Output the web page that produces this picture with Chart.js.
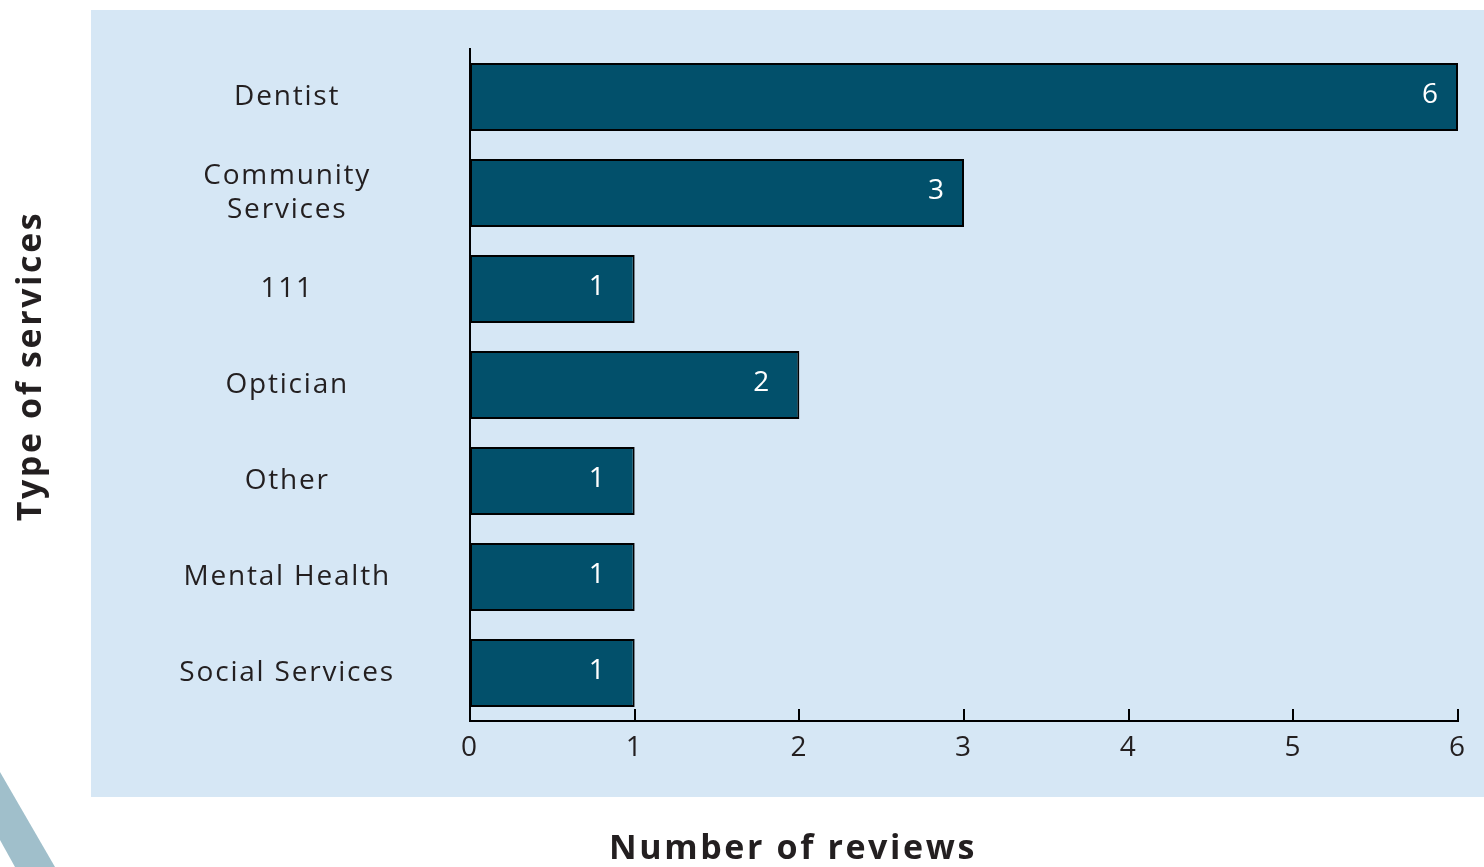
<!DOCTYPE html>
<html>
<head>
<meta charset="utf-8">
<script src="https://cdn.jsdelivr.net/npm/chart.js@4.4.1/dist/chart.umd.min.js"></script>
<style>
  html, body { margin: 0; padding: 0; background: #fff; }
  #wrap { position: relative; width: 1484px; height: 867px; }
</style>
</head>
<body>
<div id="wrap"><canvas id="reviewsChart" width="1484" height="867"></canvas></div>
<script>
'use strict';

// data
var services = ['Dentist', ['Community', 'Services'], '111', 'Optician', 'Other', 'Mental Health', 'Social Services'];
var reviewCounts = [6, 3, 1, 2, 1, 1, 1];
var xTicks = [0, 1, 2, 3, 4, 5, 6];

var xTitle = 'Number of reviews',
	yTitle = 'Type of services',
	fontFamily = '"Open Sans", "Noto Sans", sans-serif',
	textColor = '#231f20';

// the source font is letter-spaced, canvas can do that directly
var spacing = {
	id: 'spacing',
	beforeLayout: function(chart) { chart.ctx.letterSpacing = '1.8px'; },
	beforeDraw: function(chart) { chart.ctx.letterSpacing = '1.8px'; }
};

// blue panel, corner stripe and axis titles
var backdrop = {
	id: 'backdrop',
	beforeDraw: function(chart) {
		var ctx = chart.ctx;
		ctx.save();
		ctx.fillStyle = '#d6e7f5';
		ctx.fillRect(91, 10, 1393, 787);
		ctx.fillStyle = '#a0bfcb';
		ctx.beginPath();
		ctx.moveTo(0, 772);
		ctx.lineTo(55, 867);
		ctx.lineTo(15, 867);
		ctx.lineTo(0, 840);
		ctx.closePath();
		ctx.fill();
		ctx.restore();
	},
	afterDraw: function(chart) {
		var ctx = chart.ctx;
		ctx.save();
		ctx.letterSpacing = '2.6px';
		ctx.fillStyle = textColor;
		ctx.font = 'bold 34px ' + fontFamily;
		ctx.textAlign = 'center';
		ctx.textBaseline = 'middle';
		ctx.fillText(xTitle, 793, 849);
		ctx.translate(31, 366);
		ctx.rotate(-Math.PI / 2);
		ctx.fillText(yTitle, 0, 0);
		ctx.restore();
	}
};

// inward tick marks on the x axis and value labels inside the bars
var marks = {
	id: 'marks',
	afterDatasetsDraw: function(chart) {
		var ctx = chart.ctx,
			xs = chart.scales.x,
			bottom = chart.chartArea.bottom;

		ctx.save();
		ctx.strokeStyle = '#000';
		ctx.lineWidth = 2;
		xTicks.forEach(function(v) {
			var px = Math.round(xs.getPixelForValue(v));
			ctx.beginPath();
			ctx.moveTo(px, bottom);
			ctx.lineTo(px, bottom - 12);
			ctx.stroke();
		});

		ctx.letterSpacing = '0px';
		ctx.fillStyle = '#fff';
		ctx.font = '28px ' + fontFamily;
		ctx.textAlign = 'center';
		ctx.textBaseline = 'middle';
		chart.getDatasetMeta(0).data.forEach(function(bar, i) {
			var off = reviewCounts[i] > 2 ? 28 : 38;
			ctx.fillText(String(reviewCounts[i]), bar.x - off, bar.y - 2);
		});
		ctx.restore();
	}
};

new Chart(document.getElementById('reviewsChart'), {
	type: 'bar',
	data: {
		labels: services,
		datasets: [{
			data: reviewCounts,
			backgroundColor: '#02506b',
			borderColor: '#000',
			borderWidth: 2,
			borderSkipped: false,
			barPercentage: 0.71,
			categoryPercentage: 1
		}]
	},
	options: {
		indexAxis: 'y',
		responsive: false,
		animation: false,
		layout: { padding: { top: 49, right: 26, left: 0, bottom: 0 } },
		plugins: {
			legend: { display: false },
			tooltip: { enabled: false }
		},
		scales: {
			x: {
				min: 0,
				max: 6,
				afterFit: function(s) { s.height = 146; },
				afterBuildTicks: function(s) { s.ticks = xTicks.map(function(v) { return { value: v }; }); },
				grid: { display: false, drawTicks: false },
				border: { display: true, color: '#000', width: 2 },
				ticks: {
					padding: 10,
					color: textColor,
					font: { family: fontFamily, size: 28 }
				}
			},
			y: {
				afterFit: function(s) {
					s.width = 470;
					s.paddingTop = 0;
					s.paddingBottom = 0;
				},
				grid: { display: false, drawTicks: false },
				border: { display: true, color: '#000', width: 2 },
				ticks: {
					crossAlign: 'center',
					padding: 75,
					color: textColor,
					font: { family: fontFamily, size: 28, lineHeight: 1.22 }
				}
			}
		}
	},
	plugins: [spacing, backdrop, marks]
});
</script>
</body>
</html>
